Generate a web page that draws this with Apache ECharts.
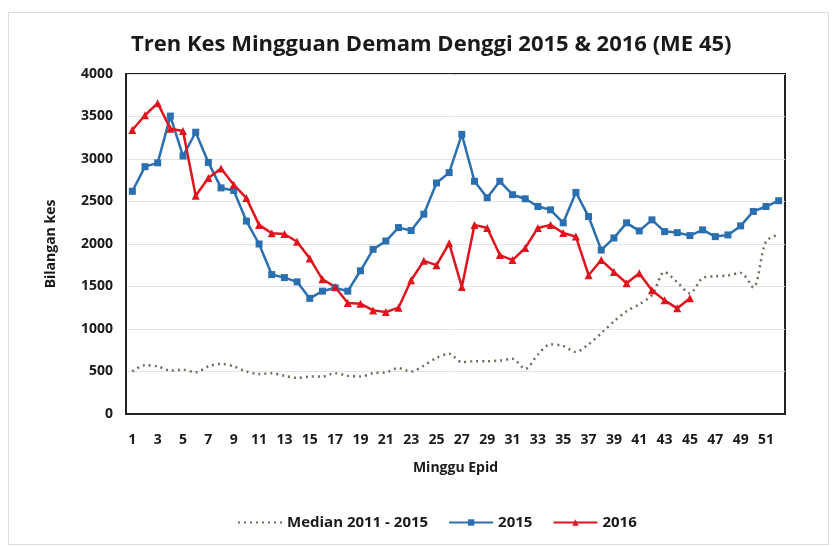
<!DOCTYPE html>
<html>
<head>
<meta charset="utf-8">
<script src="https://cdn.jsdelivr.net/npm/echarts@6/dist/echarts.min.js"></script>
<style>
    html, body { margin: 0; padding: 0; background: #fff; }
    #frame {
        position: absolute; left: 8px; top: 12px; width: 821px; height: 533px;
        border: 1px solid #ddd; box-sizing: border-box;
    }
    #chart { position: absolute; left: 0; top: 0; width: 836px; height: 546px; }
</style>
</head>
<body>
<div id="frame"></div>
<div id="chart"></div>
<script>
// minggu epid 1..52
var weeks = [];
for (var w = 1; w <= 52; w++) { weeks.push(String(w)); }

var median = [500, 575, 560, 510, 520, 490, 560, 590, 560, 500,
    470, 480, 450, 425, 440, 440, 480, 450, 440, 480,
    490, 540, 500, 570, 660, 710, 610, 620, 620, 630,
    650, 530, 700, 820, 800, 730, 820, 950, 1090, 1210,
    1290, 1400, 1670, 1550, 1420, 1600, 1620, 1630, 1660, 1490,
    2030, 2110];

var kes2015 = [2620, 2910, 2955, 3505, 3035, 3315, 2960, 2660, 2630, 2270,
    2000, 1640, 1605, 1555, 1360, 1445, 1485, 1445, 1685, 1937,
    2035, 2193, 2158, 2351, 2718, 2840, 3290, 2738, 2544, 2738,
    2580, 2532, 2441, 2402, 2249, 2607, 2323, 1929, 2071, 2249,
    2154, 2284, 2146, 2134, 2099, 2166, 2087, 2107, 2213, 2383,
    2441, 2509];

var kes2016 = [3341, 3515, 3657, 3357, 3329, 2568, 2777, 2888, 2698, 2540,
    2225, 2126, 2118, 2027, 1830, 1585, 1495, 1305, 1298, 1219,
    1199, 1251, 1574, 1802, 1751, 2008, 1495, 2225, 2189, 1870,
    1811, 1953, 2189, 2225, 2130, 2087, 1633, 1811, 1672, 1538,
    1656, 1456, 1337, 1243, 1361];

var font = 'Open Sans';
var ink = '#1a1a1a';
var chart = echarts.init(document.getElementById('chart'));

chart.setOption({
    animation: false,
    title: {
        text: 'Tren Kes Mingguan Demam Denggi 2015 & 2016 (ME 45)',
        left: 126,
        top: 29,
        textStyle: { fontFamily: font, fontSize: 22, fontWeight: 'bold', color: ink }
    },
    legend: {
        bottom: 11,
        left: 232,
        itemWidth: 44,
        itemHeight: 8,
        itemGap: 20,
        textStyle: { fontFamily: font, fontSize: 15, fontWeight: 'bold', color: ink },
        data: [
            { name: 'Median 2011 - 2015', itemStyle: { opacity: 0 } },
            '2015',
            '2016'
        ]
    },
    grid: {
        left: 126,
        right: 51,
        top: 74,
        bottom: 132,
        show: true,
        borderColor: '#222',
        borderWidth: 2
    },
    xAxis: {
        type: 'category',
        data: weeks,
        boundaryGap: true,
        name: 'Minggu Epid',
        nameLocation: 'middle',
        nameGap: 47,
        nameTextStyle: { fontFamily: font, fontSize: 14, fontWeight: 'bold', color: ink },
        axisLine: { lineStyle: { color: '#222', width: 2 } },
        axisTick: { show: false },
        axisLabel: { interval: 1, fontFamily: font, fontSize: 14, fontWeight: 'bold', color: ink, margin: 19 }
    },
    yAxis: {
        type: 'value',
        min: 0,
        max: 4000,
        interval: 500,
        name: 'Bilangan kes',
        nameLocation: 'middle',
        nameGap: 68,
        nameTextStyle: { fontFamily: font, fontSize: 14, fontWeight: 'bold', color: ink },
        axisLine: { show: true, lineStyle: { color: '#222', width: 2 } },
        axisTick: { show: false },
        axisLabel: {
            fontFamily: font, fontSize: 14, fontWeight: 'bold', color: ink, margin: 13,
            formatter: function (v) { return String(v); }
        },
        splitLine: { lineStyle: { color: '#e3e3e3', width: 1 } }
    },
    series: [
        {
            name: 'Median 2011 - 2015',
            type: 'line',
            data: median,
            smooth: 0.3,
            symbol: 'none',
            itemStyle: { color: '#6f6f5c' },
            lineStyle: { color: '#6f6f5c', width: 2.5, type: [2, 4] }
        },
        {
            name: '2015',
            type: 'line',
            data: kes2015,
            symbol: 'rect',
            symbolSize: 7,
            itemStyle: { color: '#2b6fb0' },
            lineStyle: { color: '#2b6fb0', width: 2.5 }
        },
        {
            name: '2016',
            type: 'line',
            data: kes2016,
            symbol: 'triangle',
            symbolSize: 8,
            itemStyle: { color: '#e0141c' },
            lineStyle: { color: '#e0141c', width: 2.5 }
        }
    ]
});
</script>
</body>
</html>
